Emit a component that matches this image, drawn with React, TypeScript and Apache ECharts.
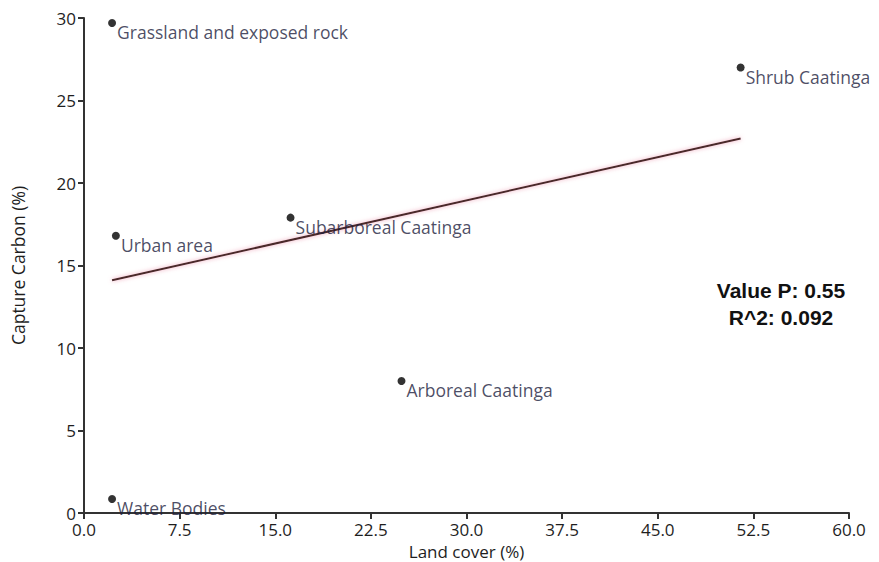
import React, { useEffect, useRef } from "react";
import * as echarts from "echarts";

const categories = [
  "Grassland and exposed rock",
  "Shrub Caatinga",
  "Subarboreal Caatinga",
  "Urban area",
  "Arboreal Caatinga",
  "Water Bodies",
];
const landCover = [2.2, 51.5, 16.2, 2.5, 24.9, 2.2];
const captureCarbon = [29.7, 27.0, 17.9, 16.8, 8.0, 0.85];
const trendX = [2.2, 51.5];
const trendY = [14.1, 22.7];
const statsText = ["Value P: 0.55", "R^2: 0.092"];

const FONT = "'Open Sans', 'Noto Sans', sans-serif";

export default function App() {
  const ref = useRef<HTMLDivElement>(null);
  useEffect(() => {
    if (!ref.current) return;
    const chart = echarts.init(ref.current, null, { renderer: "svg" });
    const axisLine = { show: true, lineStyle: { color: "#333", width: 2 } };
    chart.setOption({
      animation: false,
      backgroundColor: "#fff",
      grid: {
        left: 84,
        right: 30,
        top: 18,
        bottom: 49,
        containLabel: false,
        outerBoundsMode: "none",
      },
      xAxis: {
        type: "value",
        min: 0,
        max: 60,
        interval: 7.5,
        name: "Land cover (%)",
        nameLocation: "middle",
        nameGap: 24,
        nameTextStyle: { color: "#1e1e1e", fontSize: 17, lineHeight: 17, fontFamily: FONT },
        axisLine,
        axisTick: { show: true, length: 6, lineStyle: { color: "#333", width: 2 } },
        axisLabel: {
          color: "#1e1e1e",
          fontSize: 17,
          fontFamily: FONT,
          margin: 8,
          formatter: (v: number) => v.toFixed(1),
        },
        splitLine: { show: false },
      },
      yAxis: {
        type: "value",
        min: 0,
        max: 30,
        interval: 5,
        name: "Capture Carbon (%)",
        nameLocation: "middle",
        nameGap: 57,
        nameTextStyle: { color: "#1e1e1e", fontSize: 17.5, fontFamily: FONT },
        axisLine,
        axisTick: { show: true, length: 6, lineStyle: { color: "#333", width: 2 } },
        axisLabel: { color: "#1e1e1e", fontSize: 17, fontFamily: FONT, margin: 8 },
        splitLine: { show: false },
      },
      graphic: [
        {
          type: "text",
          x: 781,
          y: 290,
          style: {
            text: statsText[0],
            font: "bold 21px 'Liberation Sans', Arial, sans-serif",
            fill: "#111",
            align: "center",
            verticalAlign: "middle",
          },
        },
        {
          type: "text",
          x: 781,
          y: 317,
          style: {
            text: statsText[1],
            font: "bold 21px 'Liberation Sans', Arial, sans-serif",
            fill: "#111",
            align: "center",
            verticalAlign: "middle",
          },
        },
      ],
      series: [
        {
          type: "line",
          data: trendX.map((x, i) => [x, trendY[i]]),
          showSymbol: false,
          symbol: "none",
          lineStyle: {
            color: "#4a2b2b",
            width: 2,
            shadowColor: "rgba(230,120,150,0.7)",
            shadowBlur: 4,
          },
          z: 2,
        },
        {
          type: "scatter",
          data: landCover.map((x, i) => ({ value: [x, captureCarbon[i]], name: categories[i] })),
          symbolSize: 8,
          itemStyle: { color: "#000" },
          label: {
            show: true,
            position: "right",
            distance: 1,
            offset: [0, 9],
            formatter: (p: any) => p.name,
            color: "#1c1d3d",
            fontSize: 17.5,
            fontFamily: FONT,
          },
          z: 3,
        },
      ],
    });
    return () => chart.dispose();
  }, []);
  return (
    <div
      ref={ref}
      style={{ position: "fixed", left: 0, top: 0, width: 879, height: 562, background: "#fff" }}
    />
  );
}
